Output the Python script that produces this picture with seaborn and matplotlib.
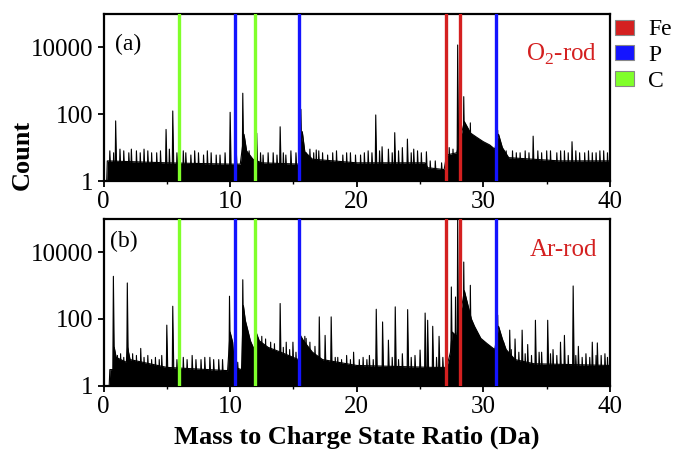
import numpy as np
import pandas as pd
import matplotlib
matplotlib.use("Agg")
import matplotlib.pyplot as plt
import seaborn as sns
from matplotlib.patches import Patch
from matplotlib.ticker import FixedLocator, LogLocator, NullFormatter, FixedFormatter

# ---------------- data ----------------
# Panel (a): O2-rod  -- dense noise band (mass, count level)
a_band_mz = [0.25, 0.3, 5.0, 10.0, 10.8, 11.1, 11.3, 11.8, 12.5, 15.5, 15.7, 15.9, 16.5,
             20.0, 25.4, 25.6, 26.9, 27.1, 27.9, 28.5, 29.0, 29.5, 30.0, 30.5, 30.9,
             31.2, 31.5, 32.0, 36.0, 40.0]
a_band_cnt = [1, 4, 3.5, 3.2, 3.2, 25, 8, 4.5, 3.5, 3.2, 30, 7.5, 4.5,
              3.5, 3.5, 2.5, 2.2, 6, 7, 60, 27, 20, 15, 12, 9,
              25, 10, 5, 4, 4]
# Panel (a): peaks (mass, apex count)
a_peak_mz = [0.96, 4.94, 5.47, 10.0, 11.0, 12.1, 13.95, 15.59, 16.8, 21.5, 22.0, 23.0,
             24.0, 25.5, 27.97, 28.45, 28.97, 31.13, 33.93, 37.0,
             0.5, 0.8, 1.3, 1.6, 2.0, 2.2, 2.6, 2.9, 3.2, 3.5, 3.8, 4.2, 4.5, 5.2, 5.8,
             6.3, 6.5, 6.9, 7.2, 7.5, 7.9, 8.2, 8.5, 8.9, 9.2, 9.6, 10.5, 11.5, 12.4,
             12.6, 13.0, 13.4, 13.7, 14.2, 14.4, 14.8, 15.2, 16.0, 16.3, 16.6, 17.0,
             17.3, 17.7, 18.1, 18.4, 18.9, 19.2, 19.5, 19.9, 20.3, 20.6, 20.9, 21.2,
             21.8, 22.5, 22.8, 23.3, 23.6, 24.3, 24.5, 24.8, 25.1, 25.8, 26.2, 26.7,
             27.3, 27.6, 31.8, 32.3, 32.6, 32.9, 33.3, 33.6, 34.3, 34.6, 35.0, 35.3,
             35.8, 36.1, 36.4, 36.7, 37.3, 37.6, 38.0, 38.3, 38.6, 38.9, 39.2, 39.5, 39.8]
a_peak_cnt = [63, 35, 125, 114, 425, 27, 42, 140, 8.5, 95, 10.6, 28,
              18, 7.5, 11800, 335, 55, 33, 22, 15,
              8, 7, 9, 8, 7, 9, 8, 7, 9, 8, 7, 7, 8, 9, 7,
              8, 7, 6, 8, 7, 6, 8, 7, 6, 6, 7, 6, 8, 7,
              6, 7, 7, 6, 7, 6, 8, 7, 7, 9, 7, 8,
              7, 6, 7, 8, 6, 7, 7, 6, 6, 7, 8, 7,
              8, 9, 7, 8, 10, 7, 9, 8, 7, 4, 4, 3.5,
              10, 9, 8, 8, 7, 7, 8, 7, 8, 7, 8, 8,
              7, 8, 8, 7, 8, 7, 7, 8, 7, 7, 8, 8, 7]

# Panel (b): Ar-rod -- dense noise band
b_band_mz = [0.45, 0.5, 0.8, 0.85, 1.0, 1.8, 1.9, 2.1, 5.0, 9.8, 10.0, 10.2, 10.35, 10.9,
             11.05, 11.2, 11.4, 11.6, 11.9, 12.05, 12.3, 13.0, 14.0, 15.4, 15.55, 15.8,
             16.5, 17.3, 20.0, 26.0, 27.1, 27.4, 27.55, 27.9, 28.5, 29.05, 29.3, 29.8,
             30.3, 30.9, 31.2, 31.5, 31.8, 32.5, 34.0, 40.0]
b_band_cnt = [1, 3, 3, 14, 7, 5, 14, 6, 3.5, 2.8, 40, 20, 3.5, 3,
              250, 90, 45, 22, 12, 40, 22, 14, 10, 6, 32, 22,
              10, 6, 4, 3.5, 3.5, 10, 40, 30, 700, 100, 60, 26,
              18, 12, 60, 25, 12, 6, 4.5, 4]
# Panel (b): peaks
b_peak_mz = [0.78, 1.88, 2.94, 5.0, 5.47, 9.95, 11.0, 11.98, 13.95, 14.43, 14.96, 16.0,
             17.04, 17.5, 17.98, 21.54, 22.04, 22.5, 23.04, 24.02, 25.0, 25.4, 25.6, 26.0,
             26.5, 27.47, 27.8, 27.97, 28.45, 28.97, 31.13, 32.08, 32.5, 33.06, 33.5,
             34.11, 35.08, 36.09, 36.4, 37.09, 37.5, 38.6, 39.0, 39.6,
             1.1, 1.35, 1.6, 2.3, 2.6, 3.2, 3.5, 3.8, 4.1, 4.4, 4.6, 5.8, 6.3, 6.6,
             7.0, 7.3, 7.7, 8.0, 8.4, 8.7, 9.1, 9.4, 10.6, 12.5, 12.8, 13.2, 13.5,
             14.2, 14.7, 15.2, 15.9, 16.3, 16.7, 18.3, 18.5, 18.8, 19.2, 19.5, 19.75,
             20.2, 20.5, 20.8, 21.0, 21.3, 22.8, 23.3, 23.6, 24.3, 24.6, 26.3, 26.8,
             31.6, 32.2, 32.8, 33.3, 33.8, 34.4, 34.6, 35.3, 35.5, 35.8, 36.7, 37.3,
             37.8, 38.1, 38.4, 38.9, 39.3, 39.8]
b_peak_cnt = [1900, 1200, 13, 65, 240, 480, 1500, 190, 290, 20, 20, 26,
              115, 32, 115, 195, 81, 23, 230, 190, 11.6, 150, 91, 60,
              30, 910, 455, 100000, 5100, 1020, 130, 46, 25, 46, 17,
              91, 91, 20, 32, 975, 15, 20, 19, 9,
              8, 9, 7, 9, 8, 7, 8, 6, 7, 6, 8, 6, 7, 6,
              8, 6, 6, 7, 7, 6, 6, 6, 5, 30, 25, 20, 18,
              14, 12, 10, 30, 20, 15, 7, 7, 6, 8, 6, 10,
              6, 7, 6, 8, 6, 7, 6, 9, 7, 8, 7, 7,
              20, 12, 10, 9, 8, 10, 10, 9, 12, 8, 8, 8,
              7, 9, 7, 8, 8, 7]

# Ion marker lines (positions)
ion_mz = [6.0, 10.4, 12.0, 15.4, 27.05, 28.12, 30.97]
ion_el = ["C", "P", "C", "P", "Fe", "Fe", "P"]
legend_el = ["Fe", "P", "C"]
el_color = {"Fe": "#d42020", "P": "#1414ff", "C": "#80ff2a"}

panel_tags = ["(a)", "(b)"]
panel_names = ["O$_\\mathregular{2}$-rod", "Ar-rod"]
x_ticks = [0, 10, 20, 30, 40]
y_ticks = [1, 100, 10000]
y_ticklabels = ["1", "100", "10000"]

# ---------------- style ----------------
sns.set_theme(style="ticks")
plt.rcParams["font.family"] = ["Liberation Serif", "DejaVu Serif"]
plt.rcParams["mathtext.fontset"] = "custom"
plt.rcParams["mathtext.rm"] = "Liberation Serif"
for k in ["text.color", "axes.labelcolor", "xtick.color", "ytick.color", "axes.edgecolor"]:
    plt.rcParams[k] = "black"

fig = plt.figure(figsize=(6.77, 4.5), dpi=100)
ax_a = fig.add_axes([103.5 / 677, 1 - 181 / 450, 506.5 / 677, 167 / 450])
ax_b = fig.add_axes([103.5 / 677, 1 - 385.5 / 450, 506.5 / 677, 166.5 / 450])

DL, DR = 0.05, 0.1


def draw_panel(ax, band_mz, band_cnt, peak_mz, peak_cnt):
    ax.fill_between(band_mz, 1, band_cnt, color="black", lw=0, zorder=2)
    band = pd.DataFrame({"mz": band_mz, "count": band_cnt})
    sns.lineplot(data=band, x="mz", y="count", color="black", lw=0.8,
                 estimator=None, sort=False, ax=ax, zorder=2)
    rows = []
    for i, (m, h) in enumerate(zip(peak_mz, peak_cnt)):
        rows += [(i, m - DL, 1.0), (i, m, h), (i, m + DR, 1.0)]
    pk = pd.DataFrame(rows, columns=["pid", "mz", "count"])
    sns.lineplot(data=pk, x="mz", y="count", units="pid", estimator=None,
                 sort=False, color="black", lw=0.8, ax=ax, zorder=3)
    for i, g in pk.groupby("pid"):
        ax.fill(g["mz"], g["count"], color="black", lw=0, zorder=3)
    for m, e in zip(ion_mz, ion_el):
        ax.axvline(m, color=el_color[e], lw=2.4, zorder=5)
    ax.set_yscale("log")
    ax.set_xlim(0, 40)
    ax.set_ylim(1, 1e5)
    ax.xaxis.set_major_locator(FixedLocator(x_ticks))
    ax.xaxis.set_minor_locator(FixedLocator([5, 15, 25, 35]))
    ax.yaxis.set_major_locator(FixedLocator(y_ticks))
    ax.yaxis.set_major_formatter(FixedFormatter(y_ticklabels))
    ax.yaxis.set_minor_locator(LogLocator(base=10, subs=np.arange(1, 10)))
    ax.yaxis.set_minor_formatter(NullFormatter())
    ax.tick_params(axis="both", which="major", direction="out", length=4.5, width=1.3,
                   labelsize=18, pad=3, colors="black")
    ax.tick_params(axis="both", which="minor", direction="out", length=2.5, width=1.0)
    ax.set_xlabel("")
    ax.set_ylabel("")
    for s in ax.spines.values():
        s.set_linewidth(1.6)
        s.set_color("black")
        s.set_visible(True)
    ax.set_facecolor("white")


draw_panel(ax_a, a_band_mz, a_band_cnt, a_peak_mz, a_peak_cnt)
draw_panel(ax_b, b_band_mz, b_band_cnt, b_peak_mz, b_peak_cnt)

ax_a.text(0.023, 0.784, panel_tags[0], transform=ax_a.transAxes, fontsize=17,
          ha="left", va="baseline", color="black")
ax_b.text(0.013, 0.834, panel_tags[1], transform=ax_b.transAxes, fontsize=17,
          ha="left", va="baseline", color="black")
ax_a.text(0.974, 0.72, panel_names[0], transform=ax_a.transAxes, fontsize=18,
          ha="right", va="baseline", color="#d42020", zorder=6)
ax_b.text(0.974, 0.78, panel_names[1], transform=ax_b.transAxes, fontsize=18,
          ha="right", va="baseline", color="#d42020", zorder=6)

handles = [Patch(facecolor=el_color[e], edgecolor="#888888", lw=0.8, label=e)
           for e in legend_el]
ax_a.legend(handles=handles, loc="upper left", bbox_to_anchor=(1.01, 0.968),
            frameon=False, fontsize=17, handlelength=0.8, handleheight=0.6,
            handletextpad=0.6, labelspacing=0.2, borderpad=0, borderaxespad=0,
            labelcolor="black")

fig.text(22 / 677, 1 - 155 / 450, "Count", rotation=90, fontsize=19,
         fontweight="bold", ha="center", va="center", color="black")
fig.text(357 / 677, 1 - 437 / 450, "Mass to Charge State Ratio (Da)", fontsize=19,
         fontweight="bold", ha="center", va="center", color="black")

fig.savefig("out.png", dpi=100, facecolor="white")
